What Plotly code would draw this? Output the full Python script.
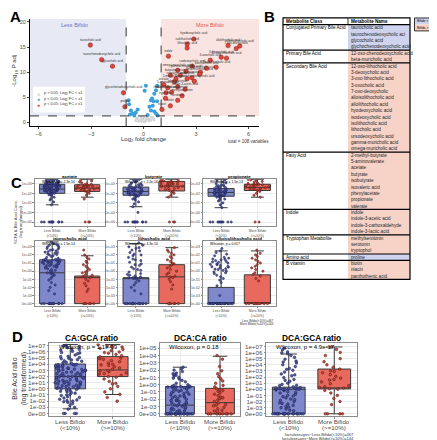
import plotly.graph_objects as go

W, H = 437, 440
def px(x): return x / W
def py(y): return 1 - y / H

FONT = "Liberation Sans, Arial, sans-serif"
BLUE_FILL = "#7f88cc"
RED_FILL = "#e8695d"
BLUE_PT = "#1c2152"
RED_PT = "#5e1710"
BLUE_DOT = "#4a52a2"
RED_DOT = "#c4463b"
TXT = "#4d4d4d"

# ---------------- Panel A : volcano data ----------------
fc_cut = 1.0
p_cut = 1.3
left_names = ["taurocholic acid", "taurochenodeoxycholic acid", "glycocholic acid",
              "glycochenodeoxycholic acid", "proline"]
left_fc = [-3.05, -2.4, -1.78, -1.15, -1.07]
left_p = [15.4, 12.5, 11.2, 5.9, 3.1]

right_names = ["hyodeoxycholic acid", "isolithocholic acid", "lithocholic acid", "indole",
               "3-oxocholic acid", "12-oxo-lithocholic acid", "3-deoxycholic acid",
               "allolithocholic acid", "alloisolithocholic acid", "7-oxo-deoxycholic",
               "isodeoxycholic acid", "ursodeoxycholic acid", "3-oxo lithocholic acid",
               "omega-muricholic acid", "gamma-muricholic acid", "butyrate", "valerate",
               "isovaleric acid", "isobutyrate", "2-methyl-butyrate", "propionate",
               "beta-muricholic acid", "acetate", "5-aminovalerate", "phenylacetate",
               "indole-3-acetic acid", "indole-3-lactic acid", "serotonin", "biotin",
               "niacin", "12-oxo-chenodeoxycholic acid", "indole-3-carboxaldehyde",
               "methylserotonin", "tryptophol", "panthothenic acid"]
right_fc = [2.87, 2.49, 2.49, 1.42, 3.81, 4.74, 4.44, 4.83, 5.5, 5.3, 2.78, 3.25, 4.15,
            1.95, 2.43, 1.53, 2.10, 1.85, 2.49, 1.76, 2.76, 3.2, 1.15, 1.38, 1.95, 2.37,
            1.28, 1.95, 1.53, 1.05, 2.9, 1.6, 2.2, 1.25, 3.6]
right_p = [16.6, 15.6, 14.8, 13.2, 12.4, 12.8, 13.0, 15.3, 15.2, 14.7, 11.2, 10.0, 11.0,
           10.4, 10.2, 9.4, 9.4, 8.7, 8.7, 8.1, 8.9, 9.6, 7.5, 6.9, 7.1, 6.6, 5.9, 4.4,
           3.3, 2.6, 8.2, 6.0, 5.3, 4.8, 10.8]

blue_fc = [0.77, 0.71, 0.61, 0.48, 0.42, 0.57, 0.77, -0.86, -0.83, -0.73, -0.34, -0.63,
           -0.53, 0.33, 0.52, 0.42, 0.61, 0.71, 0.80, 0.23, 0.13, 0.06, -0.78, -0.45]
blue_p = [7.3, 6.4, 5.7, 4.75, 4.4, 4.2, 4.2, 4.4, 3.6, 2.4, 2.6, 1.8, 1.4, 3.1, 3.3,
          2.4, 2.2, 1.8, 1.4, 1.5, 7.3, 6.3, 1.6, 2.0]

grey_fc = [-0.35, -0.2, 0.0, 0.1, 0.25, 0.35, -0.1, 0.45, 0.15, -0.45, 0.05, -0.28,
           0.3, 0.55, -0.05, 0.2, 0.4, -0.15, 0.6, -0.4]
grey_p = [0.9, 0.5, 1.0, 0.3, 0.8, 0.6, 0.2, 1.1, 0.7, 0.4, 0.15, 0.25, 0.35, 0.9,
          0.65, 1.15, 0.45, 1.05, 0.55, 0.75]

legend_a = ["p &gt; 0.05; Log<sub>2</sub> FC &lt; ±1", "p &lt; 0.05; Log<sub>2</sub> FC &lt; ±1",
            "p &lt; 0.05; Log<sub>2</sub> FC ≥ ±1"]

# ---------------- Panel B : table data ----------------
class_names = ["Conjugated Primary Bile Acid", "Primary Bile Acid", "Secondary Bile Acid",
               "Fatty Acid", "Indole", "Tryptophan Metabolite", "Amino acid", "B vitamin"]
class_members = [
    ["taurocholic acid", "taurochenodeoxycholic aci", "glycocholic acid",
     "glychochenodeoxycholic acid"],
    ["12-oxo-chenodeoxycholic acid", "beta-muricholic acid"],
    ["12-oxo-lithocholic acid", "3-deoxycholic acid", "3-oxo lithocholic acid",
     "3-oxocholic acid", "7-oxo-deoxycholic", "alloisolithocholic acid",
     "allolithocholic acid", "hyodeoxycholic acid", "isodeoxycholic acid",
     "isolithocholic acid", "lithocholic acid", "ursodeoxycholic acid",
     "gamma-muricholic acid", "omega-muricholic acid"],
    ["2-methyl-butyrate", "5-aminovalerate", "acetate", "butyrate", "isobutyrate",
     "isovaleric acid", "phenylacetate", "propionate", "valerate"],
    ["indole", "indole-3-acetic acid", "indole-3-carboxaldehyde", "indole-3-lactic acid"],
    ["methylserotonin", "serotonin", "tryptophol"],
    ["proline"],
    ["biotin", "niacin", "panthothenic acid"],
]
class_enriched = ["less", "more", "more", "more", "more", "more", "less", "more"]

# ---------------- Panel C / D : box data (log-transformed tick index units) ----------------
group_labels = ["Less Bifido<br>(&lt;10%)", "More Bifido<br>(&gt;=10%)"]
group_line1 = ["Less Bifido", "More Bifido"]
group_line2 = ["(&lt;10%)", "(&gt;=10%)"]

c_titles = ["acetate", "butyrate", "propionate", "taurocholic acid", "lithocholic acid",
            "alloisolithocholic acid"]
c_wilcox = ["Wilcoxon, p = 2.3e-16", "Wilcoxon, p &lt; 2.2e-16", "Wilcoxon, p = 1.5e-13",
            "Wilcoxon, p = 1.5e-14", "Wilcoxon, p = 4.3e-10", "Wilcoxon, p = 0.017"]
c_row1_ticks = ["0e+00", "1e+00", "1e+01", "1e+02", "1e+03"]
c_row2_ticks = ["0e+00", "1e-03", "1e-02", "1e-01", "1e+00", "1e+01", "1e+02", "1e+03"]

# stats: [q1, median, q3, lowerfence, upperfence] for (less, more)
c_stats = [
    ([3.0, 3.45, 3.95, 1.8, 4.45], [3.2, 3.55, 3.9, 2.6, 4.45]),
    ([2.8, 3.2, 3.65, 1.6, 4.45], [3.25, 3.75, 4.25, 2.6, 4.45]),
    ([2.7, 3.1, 3.5, 1.5, 4.45], [3.3, 3.6, 3.95, 2.6, 4.45]),
    ([0, 3.8, 5.4, 0, 7.6], [0, 3.2, 3.4, 0, 5.9]),
    ([0, 3.1, 3.2, 0, 7.4], [0, 3.3, 4.8, 0, 6.9]),
    ([0, 0, 2.0, 0, 6.5], [0, 0, 3.55, 0, 6.5]),
]
acetate_less = [4.42, 4.35, 4.3, 4.28, 4.22, 4.18, 4.15, 4.12, 4.08, 4.05, 4.02, 3.98, 3.95,
                3.93, 3.9, 3.88, 3.85, 3.82, 3.8, 3.78, 3.75, 3.72, 3.7, 3.68, 3.65, 3.62,
                3.6, 3.58, 3.55, 3.52, 3.5, 3.48, 3.45, 3.42, 3.4, 3.38, 3.35, 3.32, 3.3,
                3.28, 3.25, 3.22, 3.2, 3.15, 3.1, 3.05, 3.0, 2.95, 2.85, 2.75, 2.6, 2.45,
                2.3, 2.1, 1.8, 4.38, 4.25, 4.1, 3.96, 3.86, 3.76, 3.66, 3.56, 3.46, 3.36,
                3.26, 3.16, 3.06, 2.9, 0, 0, 0, 0, 0, 0, 0, 0, 0, 0, 0]
acetate_more = [4.4, 4.3, 4.2, 4.1, 4.0, 3.95, 3.9, 3.85, 3.8, 3.75, 3.7, 3.65, 3.6, 3.55,
                3.5, 3.45, 3.4, 3.35, 3.3, 3.25, 3.2, 3.1, 3.0, 2.8, 2.4, 3.82, 3.72,
                3.62, 3.52, 0, 0, 0]
butyrate_less = [4.45, 4.4, 4.3, 4.2, 4.1, 4.0, 3.95, 3.9, 3.85, 3.8, 3.75, 3.7, 3.65, 3.6,
                 3.55, 3.5, 3.45, 3.4, 3.35, 3.3, 3.25, 3.2, 3.18, 3.15, 3.1, 3.05, 3.0,
                 2.95, 2.9, 2.85, 2.8, 2.75, 2.7, 2.6, 2.5, 2.4, 2.3, 2.1, 1.9, 1.6, 1.0,
                 3.62, 3.52, 3.42, 3.32, 3.22, 3.12, 3.02, 2.92, 2.82, 0, 0, 0, 0, 0, 0, 0,
                 0, 0, 0, 0, 0]
butyrate_more = [4.45, 4.4, 4.35, 4.3, 4.25, 4.2, 4.15, 4.1, 4.05, 4.0, 3.95, 3.9, 3.85,
                 3.8, 3.75, 3.7, 3.6, 3.5, 3.4, 3.3, 3.2, 3.1, 3.0, 2.8, 2.6, 4.12, 3.92,
                 3.72, 3.52, 0, 0, 0]
propionate_less = [4.4, 4.3, 4.2, 4.1, 4.0, 3.9, 3.85, 3.8, 3.75, 3.7, 3.65, 3.6, 3.55, 3.5,
                   3.45, 3.4, 3.35, 3.3, 3.25, 3.2, 3.15, 3.1, 3.05, 3.0, 2.95, 2.9, 2.85,
                   2.8, 2.75, 2.7, 2.65, 2.6, 2.5, 2.4, 2.3, 2.2, 2.0, 1.8, 1.5, 3.42,
                   3.32, 3.22, 3.12, 3.02, 2.92, 2.82, 2.72, 0, 0, 0, 0, 0, 0, 0, 0, 0, 0]
propionate_more = [4.45, 4.4, 4.3, 4.25, 4.2, 4.1, 4.05, 4.0, 3.95, 3.9, 3.85, 3.8, 3.75,
                   3.7, 3.65, 3.6, 3.5, 3.45, 3.4, 3.35, 3.3, 3.2, 3.0, 2.8, 2.6, 3.88,
                   3.68, 3.48, 0, 0]
tauro_less = [7.6, 7.4, 7.3, 7.2, 7.1, 7.0, 6.9, 6.8, 6.7, 6.6, 6.5, 6.4, 6.3, 6.2, 6.1, 6.0,
              5.9, 5.8, 5.7, 5.6, 5.5, 5.45, 5.4, 5.35, 5.3, 5.25, 5.2, 5.15, 5.1, 5.05,
              5.0, 4.9, 4.8, 4.7, 4.6, 4.5, 4.4, 4.3, 4.2, 4.1, 4.0, 3.9, 3.8, 3.7, 3.6,
              3.5, 3.3, 3.1, 2.9, 2.6, 2.3, 2.0, 1.6, 1.2, 5.38, 5.28, 5.18, 5.08, 4.98,
              4.88, 4.78, 4.68, 4.58, 4.48, 6.05, 6.35, 6.65, 0, 0, 0, 0, 0, 0, 0, 0, 0,
              0, 0, 0]
tauro_more = [6.6, 6.0, 5.7, 5.5, 5.2, 5.0, 4.8, 4.6, 4.4, 4.2, 4.0, 3.9, 3.8, 3.6, 3.5,
              3.4, 3.3, 3.2, 3.0, 2.8, 2.5, 2.2, 1.8, 1.5, 0, 0, 0, 0, 0, 0]
litho_less = [7.5, 7.2, 7.0, 6.8, 6.5, 6.3, 6.1, 5.9, 5.7, 5.5, 5.3, 5.1, 4.9, 4.7, 4.5,
              4.3, 4.1, 3.9, 3.7, 3.5, 3.4, 3.3, 3.2, 3.2, 3.2, 3.1, 3.0, 2.8, 2.6, 2.3,
              2.0, 1.6, 1.2, 6.9, 6.6, 6.0, 5.4, 4.8, 4.2, 3.6, 0, 0, 0, 0, 0, 0, 0, 0,
              0, 0, 0, 0, 0, 0, 0]
litho_more = [6.9, 6.6, 6.4, 6.2, 6.0, 5.8, 5.6, 5.4, 5.2, 5.0, 4.9, 4.8, 4.6, 4.4, 4.2,
              4.0, 3.8, 3.6, 3.4, 3.3, 3.2, 3.0, 2.7, 2.3, 1.8, 0, 0, 0, 0, 0, 0]
allo_less = [6.8, 6.5, 6.3, 6.1, 5.9, 5.7, 5.6, 5.5, 5.4, 5.3, 5.2, 5.1, 5.0, 4.9, 4.8, 4.7,
             4.6, 4.5, 4.4, 4.3, 4.2, 4.1, 4.0, 3.9, 3.8, 3.7, 3.5, 3.3, 3.1, 2.9, 2.6,
             2.2, 1.0, 5.45, 5.15, 4.85, 4.55, 4.25, 0, 0, 0, 0, 0, 0, 0, 0, 0, 0, 0, 0,
             0, 0, 0, 0, 0, 0, 0, 0, 0, 0]
allo_more = [6.6, 6.2, 6.0, 5.8, 5.6, 5.4, 5.2, 5.0, 4.8, 4.6, 4.4, 4.2, 4.0, 3.8, 3.6,
             3.4, 3.1, 2.8, 0, 0, 0, 0, 0, 0, 0, 0, 0, 0]
c_points = [(acetate_less, acetate_more), (butyrate_less, butyrate_more),
            (propionate_less, propionate_more), (tauro_less, tauro_more),
            (litho_less, litho_more), (allo_less, allo_more)]

d_titles = ["CA:GCA ratio", "DCA:CA ratio", "DCA:GCA ratio"]
d_wilcox = ["Wilcoxon, p = 1.1e-09", "Wilcoxon, p = 0.18", "Wilcoxon, p = 4.9e-17"]
d_ticks_7 = ["0e+00", "1e-03", "1e-02", "1e-01", "1e+00", "1e+01", "1e+02", "1e+03",
             "1e+04", "1e+05", "1e+06", "1e+07"]
d_ticks_5 = ["0e+00", "1e-03", "1e-02", "1e-01", "1e+00", "1e+01", "1e+02", "1e+03",
             "1e+04", "1e+05"]
d_stats = [
    ([4.0, 6.0, 8.04, 0.75, 11.2], [6.0, 7.07, 9.24, 3.08, 11.2]),
    ([0, 1.2, 3.74, 0, 6.4], [0, 1.54, 3.5, 0, 7.9]),
    ([0, 4.0, 4.34, 0, 9.75], [4.07, 4.2, 7.3, 0, 10.9]),
]
cagca_less = [11.1, 10.9, 10.7, 10.5, 10.3, 10.1, 9.9, 9.7, 9.5, 9.3, 9.1, 8.9, 8.7, 8.5,
              8.3, 8.1, 8.0, 7.9, 7.8, 7.7, 7.6, 7.5, 7.4, 7.3, 7.2, 7.1, 7.0, 6.9, 6.8,
              6.7, 6.6, 6.5, 6.4, 6.3, 6.2, 6.1, 6.0, 5.9, 5.8, 5.7, 5.6, 5.5, 5.4, 5.3,
              5.2, 5.1, 5.0, 4.9, 4.8, 4.7, 4.6, 4.5, 4.4, 4.3, 4.2, 4.1, 4.0, 3.9, 3.7,
              3.5, 3.3, 3.1, 2.9, 2.7, 2.5, 2.3, 2.1, 1.9, 1.6, 1.3, 1.0, 0.7, 0, 0, 0, 0,
              10.95, 10.4, 9.85, 9.25, 8.75, 8.25, 7.95, 7.65, 7.35, 7.05, 6.75, 6.45,
              6.15, 5.85, 5.55, 5.25, 4.95, 4.65, 4.35, 4.05, 3.8, 3.4, 3.0, 2.6, 2.2,
              1.8, 8.55, 7.15, 6.05, 5.05, 4.15, 6.95, 5.95, 4.95, 7.85, 8.95, 3.6, 2.0]
cagca_more = [11.2, 11.0, 10.8, 10.6, 10.4, 10.2, 10.0, 9.8, 9.6, 9.4, 9.2, 9.0, 8.8, 8.6,
              8.4, 8.2, 8.0, 7.8, 7.6, 7.4, 7.2, 7.0, 6.8, 6.6, 6.4, 6.2, 6.0, 5.6, 5.2,
              4.8, 4.4, 4.0, 3.5, 3.1, 2.6, 2.0, 10.9, 9.9, 8.9, 7.9, 6.9, 6.5, 5.9, 4.9]
dcaca_less = [6.4, 6.2, 6.0, 5.8, 5.6, 5.5, 5.4, 5.2, 5.0, 4.8, 4.6, 4.4, 4.2, 4.0, 3.9, 3.8,
              3.75, 3.7, 3.7, 3.6, 3.5, 3.4, 3.3, 3.2, 3.1, 3.0, 2.9, 2.8, 2.7, 2.6, 2.5,
              2.4, 2.3, 2.2, 2.1, 2.0, 1.9, 1.8, 1.7, 1.6, 1.5, 1.4, 1.3, 1.2, 1.1, 1.0,
              0.9, 0.8, 0.7, 0.6, 0.5, 0.4, 0.3, 0.2, 0.1, 0, 0, 0, 0, 0, 0, 0, 0, 0, 0,
              0, 0, 3.72, 3.68, 3.74, 3.66, 3.7, 3.05, 2.45, 1.85, 1.25, 0.65, 0.25, 0,
              0, 0, 0, 0, 0, 0, 0, 0, 0, 4.9, 5.3]
dcaca_more = [8.0, 7.5, 6.5, 5.9, 5.5, 5.1, 4.8, 4.5, 4.2, 3.9, 3.7, 3.5, 3.3, 3.1, 2.9,
              2.7, 2.5, 2.3, 2.1, 1.9, 1.7, 1.5, 1.3, 1.1, 0.9, 0.7, 0.5, 0.3, 0, 0, 0, 0,
              0, 0, 3.2, 2.2, 1.2, 0.4, 0, 0]
dcagca_less = [10.7, 10.4, 10.1, 9.8, 9.5, 9.2, 8.9, 8.6, 8.3, 8.0, 7.7, 7.4, 7.1, 6.8, 6.5,
               6.2, 5.9, 5.6, 5.3, 5.0, 4.8, 4.6, 4.4, 4.3, 4.2, 4.1, 4.0, 4.0, 3.9, 3.8,
               3.6, 3.4, 3.2, 3.0, 2.8, 2.6, 2.4, 2.2, 2.0, 1.8, 1.6, 1.4, 1.2, 1.0, 0.8,
               0.5, 0, 0, 0, 0, 0, 0, 0, 0, 0, 0, 0, 0, 4.05, 4.1, 3.95, 4.15, 4.0, 3.5,
               2.9, 2.3, 1.7, 1.1, 0.6, 0, 0, 0, 0, 0, 0, 0, 0, 9.95, 8.45, 7.25, 6.35,
               5.45, 4.65]
dcagca_more = [10.9, 10.5, 10.0, 9.5, 9.0, 8.5, 8.0, 7.6, 7.3, 7.0, 6.7, 6.4, 6.1, 5.8, 5.5,
               5.2, 4.9, 4.6, 4.4, 4.2, 4.1, 4.0, 3.8, 3.4, 3.0, 2.5, 2.0, 1.5, 0, 0, 0,
               6.9, 5.6, 4.3, 0]
d_points = [(cagca_less, cagca_more), (dcaca_less, dcaca_more), (dcagca_less, dcagca_more)]

n_less, n_more = 467, 144

# ================= build figure =================
fig = go.Figure()
layout = dict(width=W, height=H, margin=dict(l=0, r=0, t=0, b=0),
              paper_bgcolor="white", plot_bgcolor="white", showlegend=False,
              font=dict(family=FONT, color="black"), boxmode="overlay")
annotations = []
shapes = []

def ann(text, x, y, size, color="black", xanchor="center", yanchor="middle", bold=False,
        angle=0, align="center"):
    if bold:
        text = "<b>" + text + "</b>"
    annotations.append(dict(text=text, x=px(x), y=py(y), xref="paper", yref="paper",
                            showarrow=False, xanchor=xanchor, yanchor=yanchor,
                            font=dict(size=size, color=color, family=FONT),
                            textangle=angle, align=align, borderpad=0))

# ---- Panel A ----
layout["xaxis"] = dict(domain=[px(22), px(251)], anchor="y", range=[-6.5, 6.6],
                       tickvals=[-6, -3, 0, 3, 6], showgrid=False, zeroline=False,
                       showline=True, linecolor="black", linewidth=1, ticks="outside",
                       ticklen=2, tickfont=dict(size=5.5, color=TXT))
layout["yaxis"] = dict(domain=[py(118), py(10)], anchor="x", range=[-0.8, 20.6],
                       tickvals=[0, 5, 10, 15, 20], showgrid=False, zeroline=False,
                       showline=True, linecolor="black", linewidth=1, ticks="outside",
                       ticklen=2, tickfont=dict(size=5.5, color=TXT))
shapes.append(dict(type="rect", xref="x", yref="y", x0=-6.5, x1=-fc_cut, y0=p_cut, y1=20.6,
                   fillcolor="#e7e9f4", line=dict(width=0), layer="below"))
shapes.append(dict(type="rect", xref="x", yref="y", x0=fc_cut, x1=6.6, y0=p_cut, y1=20.6,
                   fillcolor="#fae4e1", line=dict(width=0), layer="below"))
for xv in (-fc_cut, fc_cut):
    shapes.append(dict(type="line", xref="x", yref="y", x0=xv, x1=xv, y0=-0.8, y1=20.6,
                       line=dict(color="#333333", width=1, dash="dash")))
shapes.append(dict(type="line", xref="x", yref="y", x0=-6.5, x1=6.6, y0=p_cut, y1=p_cut,
                   line=dict(color="#333333", width=1, dash="dash")))

fig.add_trace(go.Scatter(x=grey_fc, y=grey_p, mode="markers", xaxis="x", yaxis="y",
                         marker=dict(size=3, color="#d4d4d4")))
fig.add_trace(go.Scatter(x=blue_fc, y=blue_p, mode="markers", xaxis="x", yaxis="y",
                         marker=dict(size=4, color="#3b9fda")))
fig.add_trace(go.Scatter(x=left_fc, y=left_p, mode="markers+text", xaxis="x", yaxis="y",
                         text=left_names, textposition="top center", cliponaxis=False,
                         textfont=dict(size=3, color="#333333"),
                         marker=dict(size=4.5, color="#e2453a", line=dict(width=0.4, color="#6b1a12"))))
fig.add_trace(go.Scatter(x=right_fc, y=right_p, mode="markers+text", xaxis="x", yaxis="y",
                         text=right_names, textposition="top center", cliponaxis=False,
                         textfont=dict(size=3, color="#333333"),
                         marker=dict(size=4.5, color="#e2453a", line=dict(width=0.4, color="#6b1a12"))))

ann("Less Bifido", 66, 16, 5.5, color="#6b73c4")
ann("More Bifido", 202, 16, 5.5, color="#e2564a")
ann("Log<sub>2</sub> fold change", 136, 131, 6, color="#333333")
ann("-Log<sub>10</sub> P adj", 7, 62, 6, color="#333333", angle=-90)
ann("total = 108 variables", 240, 133, 4.5, color="#333333")
shapes.append(dict(type="rect", xref="paper", yref="paper", x0=px(25), x1=px(77),
                   y0=py(104), y1=py(78), fillcolor="white", line=dict(width=0)))
for i, (lab, col) in enumerate(zip(legend_a, ["#cfcfcf", "#3b9fda", "#e2453a"])):
    yy = 85 + i * 5.7
    ann("●", 31, yy, 5, color=col)
    ann(lab, 35, yy, 3.8, color="#333333", xanchor="left")

# ---- Panel B : table ----
TX0, TXC, TX1 = 275, 340, 402
top, head_h, row_h = 9, 6.7, 6.4
shapes.append(dict(type="line", xref="paper", yref="paper", x0=px(TXC), x1=px(TXC),
                   y0=py(top), y1=py(top + head_h), line=dict(color="black", width=0.8)))
ann("Metabolite Class", TX0 + 2, top + head_h / 2, 4.6, xanchor="left", bold=True)
ann("Metabolite Name", TXC + 2, top + head_h / 2, 4.6, xanchor="left", bold=True)
y_cur = top + head_h
for cname, members, enr in zip(class_names, class_members, class_enriched):
    g_top = y_cur
    g_bot = y_cur + row_h * len(members)
    shapes.append(dict(type="rect", xref="paper", yref="paper", x0=px(TXC), x1=px(TX1),
                       y0=py(g_bot), y1=py(g_top),
                       fillcolor="#cfd3ee" if enr == "less" else "#f7d3c7",
                       line=dict(width=0), layer="below"))
    ann(cname, TX0 + 2, g_top + row_h / 2, 4.6, xanchor="left")
    for j, m in enumerate(members):
        ann(m, TXC + 2, g_top + row_h * (j + 0.5), 4.6, xanchor="left", color="#262626")
    shapes.append(dict(type="line", xref="paper", yref="paper", x0=px(TX0), x1=px(TX1),
                       y0=py(g_top), y1=py(g_top), line=dict(color="black", width=1.2)))
    y_cur = g_bot
shapes.append(dict(type="rect", xref="paper", yref="paper", x0=px(TX0), x1=px(TX1),
                   y0=py(y_cur), y1=py(top), line=dict(color="black", width=1.2)))
# B legend
shapes.append(dict(type="rect", xref="paper", yref="paper", x0=px(406.5), x1=px(436),
                   y0=py(15.5), y1=py(9), fillcolor="#cfd3ee", line=dict(width=0)))
shapes.append(dict(type="rect", xref="paper", yref="paper", x0=px(406.5), x1=px(436),
                   y0=py(22), y1=py(15.5), fillcolor="#f7d3c7", line=dict(width=0)))
shapes.append(dict(type="rect", xref="paper", yref="paper", x0=px(406.5), x1=px(436),
                   y0=py(22), y1=py(9), line=dict(color="black", width=0.8)))
ann("Bifido &lt; 10%", 408, 12.3, 3.4, xanchor="left")
ann("Bifido &gt; 10%", 408, 18.7, 3.4, xanchor="left")

# ---- Panels C & D ----
def make_axes(n, xpx, ypx, yr, ticktext, fs, xfs, glw, show_xlabels=True):
    xa = dict(domain=[px(xpx[0]), px(xpx[1])], anchor=f"y{n}", range=[-0.5, 1.5],
              tickvals=[0, 1], ticktext=group_labels, showticklabels=show_xlabels,
              tickfont=dict(size=xfs, color=TXT), showgrid=True, gridcolor="#ebebeb",
              gridwidth=glw, showline=True, mirror=True, linecolor="#8c8c8c", linewidth=0.8,
              ticks="outside", ticklen=1.5, tickcolor="#8c8c8c", zeroline=False)
    ya = dict(domain=[py(ypx[1]), py(ypx[0])], anchor=f"x{n}", range=yr,
              tickvals=list(range(len(ticktext))), ticktext=ticktext,
              tickfont=dict(size=fs, color=TXT), showgrid=True, gridcolor="#ebebeb",
              gridwidth=glw, showline=True, mirror=True, linecolor="#8c8c8c", linewidth=0.8,
              ticks="outside", ticklen=1.5, tickcolor="#8c8c8c", zeroline=False)
    layout[f"xaxis{n}"] = xa
    layout[f"yaxis{n}"] = ya

def add_boxes(n, stats, pts, msize, bw):
    for k, (st, vals, fill, dot, pc) in enumerate(zip(stats, pts, [BLUE_FILL, RED_FILL],
                                                      [BLUE_DOT, RED_DOT], [BLUE_PT, RED_PT])):
        fig.add_trace(go.Box(x=[k], q1=[st[0]], median=[st[1]], q3=[st[2]],
                             lowerfence=[st[3]], upperfence=[st[4]], orientation="v",
                             xaxis=f"x{n}", yaxis=f"y{n}", fillcolor=fill, width=bw,
                             line=dict(color="#3a3a3a", width=1), boxpoints=False))
        fig.add_trace(go.Box(y=vals, x0=k, orientation="v", xaxis=f"x{n}", yaxis=f"y{n}",
                             boxpoints="all", jitter=1, pointpos=0, width=bw,
                             fillcolor="rgba(0,0,0,0)", line=dict(color="rgba(0,0,0,0)", width=0),
                             marker=dict(size=msize, color=dot, opacity=0.95,
                                         line=dict(width=0.6, color=pc))))

c_cols = [(26.7, 96.7), (110, 181.7), (195, 267.5)]
c_rows = [(171, 218), (233, 298)]
for i in range(6):
    r, c = divmod(i, 3)
    n = 2 + i
    if r == 0:
        make_axes(n, c_cols[c], c_rows[r], [-0.42, 4.48], c_row1_ticks, 3.5, 3.4, 0.5)
    else:
        make_axes(n, c_cols[c], c_rows[r], [-0.25, 7.73], c_row2_ticks, 3.5, 3.4, 0.5)
    add_boxes(n, c_stats[i], c_points[i], 2.2, 0.72)
    xc = (c_cols[c][0] + c_cols[c][1]) / 2
    ann(c_titles[i], xc, c_rows[r][0] - 2.8, 4.4, bold=True)
    ann(c_wilcox[i], c_cols[c][0] + 6, c_rows[r][0] + 2.6, 3.4, xanchor="left")
ann("SCFA & Bile Acid Conc.<br>(log transformed)", 10, 214, 4.2, color="#333333", angle=-90)
ann("Less Bifido(&lt;10%)=467", 267, 313, 3.0, xanchor="right", color="#333333")
ann("More Bifido(&gt;=10%)=144", 267, 316.5, 3.0, xanchor="right", color="#333333")

d_cols = [(41, 126), (152, 232), (258, 349)]
d_rows = (336, 409)
d_ranges = [[-0.44, 11.38], [-0.31, 9.65], [-0.38, 11.47]]
d_ticktexts = [d_ticks_7, d_ticks_5, d_ticks_7]
for i in range(3):
    n = 8 + i
    make_axes(n, d_cols[i], d_rows, d_ranges[i], d_ticktexts[i], 6.2, 6.2, 0.7,
              show_xlabels=False)
    add_boxes(n, d_stats[i], d_points[i], 2.6, 0.72)
    x0, x1 = d_cols[i]
    xc = (x0 + x1) / 2
    ann(d_titles[i], xc, 330.5, 8.3, bold=True)
    ann(d_wilcox[i], x0 + 0.1 * (x1 - x0), 339.5, 6, xanchor="left")
    for k in range(2):
        xk = x0 + (x1 - x0) * (0.25 + 0.5 * k)
        ann(group_line1[k], xk, 414, 6.2, color=TXT)
        ann(group_line2[k], xk, 420.5, 6.2, color=TXT)
ann("Bile Acid ratio<br>(log transformed)", 11, 372, 7, color="#333333", angle=-90)
ann(f"lactulose=yes~Less Bifido(&lt;10%)={n_less}", 347, 427.5, 4.0, xanchor="right",
    color="#333333")
ann(f"lactulose=yes~More Bifido(&gt;=10%)={n_more}", 347, 431.5, 4.0, xanchor="right",
    color="#333333")

# panel letters
ann("A", 7, 8, 15, bold=True)
ann("B", 261, 8, 15, bold=True)
ann("C", 8, 174, 15, bold=True)
ann("D", 9, 329, 15, bold=True)

layout["annotations"] = annotations
layout["shapes"] = shapes
fig.update_layout(**layout)
fig.write_html("out.html")
